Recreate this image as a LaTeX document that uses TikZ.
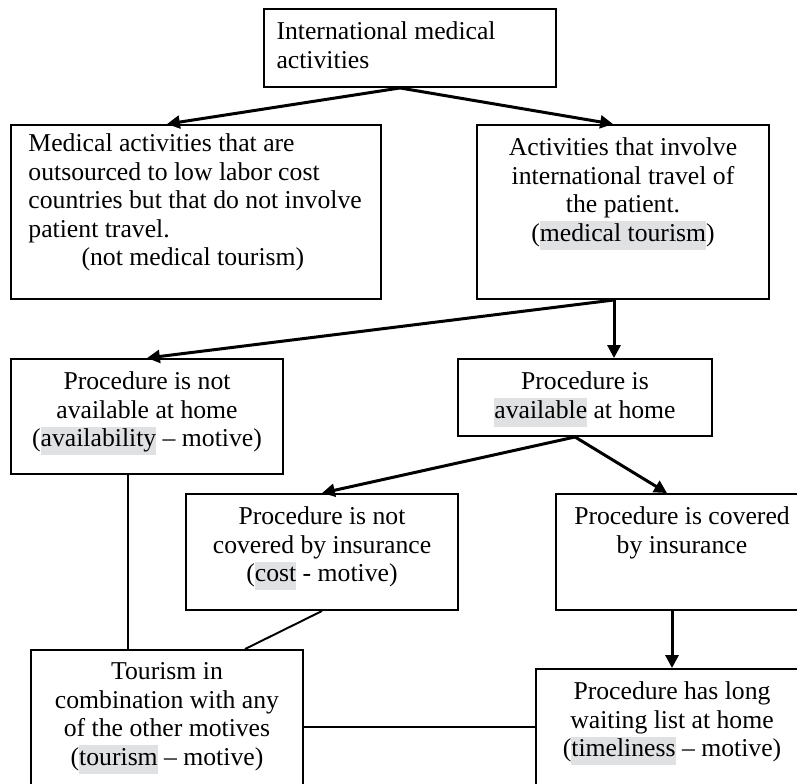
\documentclass[tikz,border=0pt]{standalone}
\usepackage{fontspec}
\setmainfont{Liberation Serif}
\usetikzlibrary{arrows.meta, positioning, fit, calc}

\definecolor{hlgray}{RGB}{224,225,227}
\newcommand{\hlgray}[1]{{\setlength{\fboxsep}{0pt}\colorbox{hlgray}{\strut#1}}}

\begin{document}
\begin{tikzpicture}[x=0.467pt, y=-0.467pt,
                    box/.style={draw, line width=0.9pt, inner sep=0pt},
                    txt/.style={font=\fontsize{12}{13.3}\selectfont, align=center, inner sep=0pt, anchor=north},
                    arr/.style={line width=1.4pt, -{Triangle[length=6pt, width=6pt]}},
                    link/.style={line width=0.9pt}]

    \clip (0,0) rectangle (797,783);

    % Boxes
    \node[box, fit={(264,9) (556,87)}] (intl) {};
    \node[box, fit={(11,125) (381,299)}] (outsrc) {};
    \node[box, fit={(477,125) (769,299)}] (travel) {};
    \node[box, fit={(11,359) (283,474)}] (notavail) {};
    \node[box, fit={(458,359) (712,436)}] (avail) {};
    \node[box, fit={(186,494) (458,610)}] (nocover) {};
    \node[box, fit={(556,494) (808,610)}] (cover) {};
    \node[box, fit={(31,650) (303,800)}] (tourism) {};
    \node[box, fit={(536,669) (808,800)}] (waiting) {};

    % Texts
    \node[txt, anchor=north west, align=left] (intl-t) at ([shift={(6.1pt,-6.3pt)}]intl.north west)
        {International medical\\activities};
    \node[txt, anchor=north west, align=left] (outsrc-t) at ([shift={(8.4pt,-4.4pt)}]outsrc.north west)
        {Medical activities that are\\outsourced to low labor cost\\countries but that do not involve\\patient travel.\\\hspace*{24.8pt}(not medical tourism)};
    \node[txt] (travel-t) at ([yshift=-6.3pt]travel.north)
        {Activities that involve\\international travel of\\the patient.\\(\hlgray{medical tourism})};
    \node[txt] (notavail-t) at ([yshift=-6.3pt]notavail.north)
        {Procedure is not\\available at home\\(\hlgray{availability} – motive)};
    \node[txt] (avail-t) at ([yshift=-6.3pt]avail.north)
        {Procedure is\\\hlgray{available} at home};
    \node[txt] (nocover-t) at ([yshift=-6.3pt]nocover.north)
        {Procedure is not\\covered by insurance\\(\hlgray{cost} - motive)};
    \node[txt] (cover-t) at ([yshift=-6.3pt]cover.north)
        {Procedure is covered\\by insurance};
    \node[txt] (tourism-t) at ([yshift=-6.3pt]tourism.north)
        {Tourism in\\combination with any\\of the other motives\\(\hlgray{tourism} – motive)};
    \node[txt] (waiting-t) at ([yshift=-6.3pt]waiting.north)
        {Procedure has long\\waiting list at home\\(\hlgray{timeliness} – motive)};

    % Arrows
    \coordinate (intl-s) at ($(intl.south)+(-10,0)$);
    \draw[arr] (intl-s) -- ($(outsrc.north)+(-29,0)$);
    \draw[arr] (intl-s) -- ($(travel.north)+(-10,0)$);

    \coordinate (travel-s) at ($(travel.south)+(-9,0)$);
    \draw[arr] (travel-s) -- (notavail.north);
    \draw[arr] (travel-s) -- (travel-s |- avail.north);

    \coordinate (avail-s) at ($(avail.south)+(-10,0)$);
    \draw[arr] (avail-s) -- (nocover.north);
    \draw[arr] (avail-s) -- ($(cover.north)+(-15,0)$);

    \draw[arr] (cover.south -| waiting.north) -- (waiting.north);

    % Plain links to tourism
    \coordinate (notavail-s) at ($(notavail.south)+(-19,0)$);
    \draw[link] (notavail-s) -- (notavail-s |- tourism.north);
    \draw[link] (nocover.south) -- ($(tourism.north)+(78,0)$);
    \draw[link] ($(tourism.east)+(0,2)$) -- ($(tourism.east -| waiting.west)+(0,2)$);

\end{tikzpicture}
\end{document}
